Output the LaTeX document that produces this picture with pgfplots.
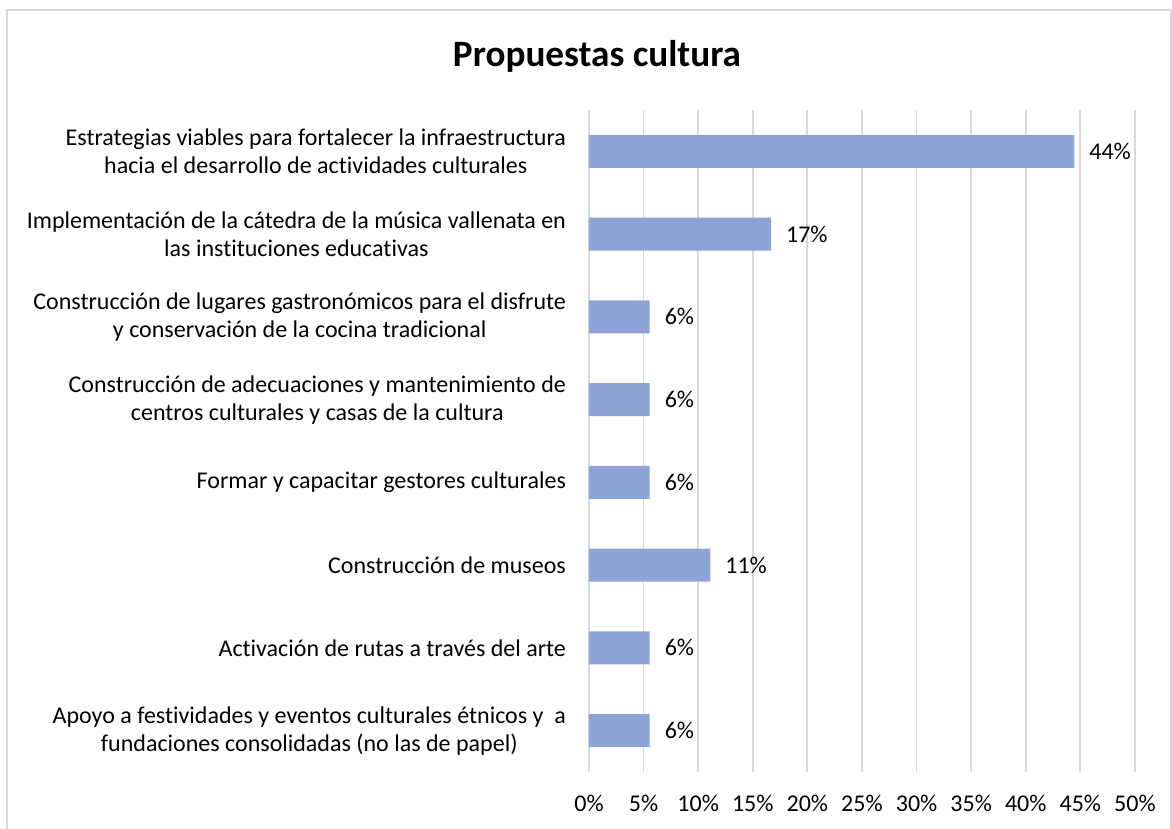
\documentclass[border=0pt]{standalone}
\usepackage{pgfplots}
\pgfplotsset{compat=1.18}
\usepackage{fontspec}
\setmainfont{Carlito}[RawFeature={-liga;-clig;-calt;-dlig}]
\definecolor{barblue}{HTML}{8FA4D6}
\definecolor{gridgray}{HTML}{D9D9D9}
\begin{document}
\begin{tikzpicture}
\useasboundingbox (-294.5pt,-28.5pt) rectangle (291.5pt,386pt);
\begin{axis}[
  name=ax,
  at={(0,0)}, anchor=south west,
  scale only axis,
  width=273pt, height=331pt,
  xbar,
  bar width=16.5pt,
  xmin=0, xmax=50,
  ymin=-0.5, ymax=7.5,
  xtick={0,5,...,50},
  xticklabel={\pgfmathprintnumber{\tick}\%},
  /pgf/number format/assume math mode=true,
  ytick={0,...,7},
  yticklabels={
    {Apoyo a festividades y eventos culturales étnicos y \ a\\fundaciones consolidadas (no las de papel)},
    {Activación de rutas a través del arte},
    {Construcción de museos},
    {Formar y capacitar gestores culturales},
    {Construcción de adecuaciones y mantenimiento de\\centros culturales y casas de la cultura},
    {Construcción de lugares gastronómicos para el disfrute\\y conservación de la cocina tradicional},
    {Implementación de la cátedra de la música vallenata en\\las instituciones educativas},
    {Estrategias viables para fortalecer la infraestructura\\hacia el desarrollo de actividades culturales}},
  yticklabel style={align=center, font=\fontsize{12}{14}\selectfont, xshift=-8pt},
  xticklabel style={font=\fontsize{12}{14}\selectfont, yshift=-8pt},
  major tick length=0pt,
  axis line style={draw=none},
  xmajorgrids, grid style={gridgray, line width=0.9pt},
  title={\bfseries Propuestas cultura},
  title style={at={(axis description cs:0.0147,1.063)}, anchor=center, font=\fontsize{18.6}{22}\selectfont},
  nodes near coords={\pgfmathprintnumber[fixed,precision=0]{\pgfplotspointmeta}\%},
  nodes near coords style={font=\fontsize{12}{14}\selectfont, anchor=west, xshift=4pt},
]
\addplot[fill=barblue, draw=none] coordinates {
  (5.56,0) (5.56,1) (11.11,2) (5.56,3) (5.56,4) (5.56,5) (16.67,6) (44.44,7)
};
\end{axis}
\draw[gridgray, line width=0.8pt] (-291pt,-40pt) -- (-291pt,381pt) -- (291pt,381pt) -- (291pt,-40pt);
\end{tikzpicture}
\end{document}
